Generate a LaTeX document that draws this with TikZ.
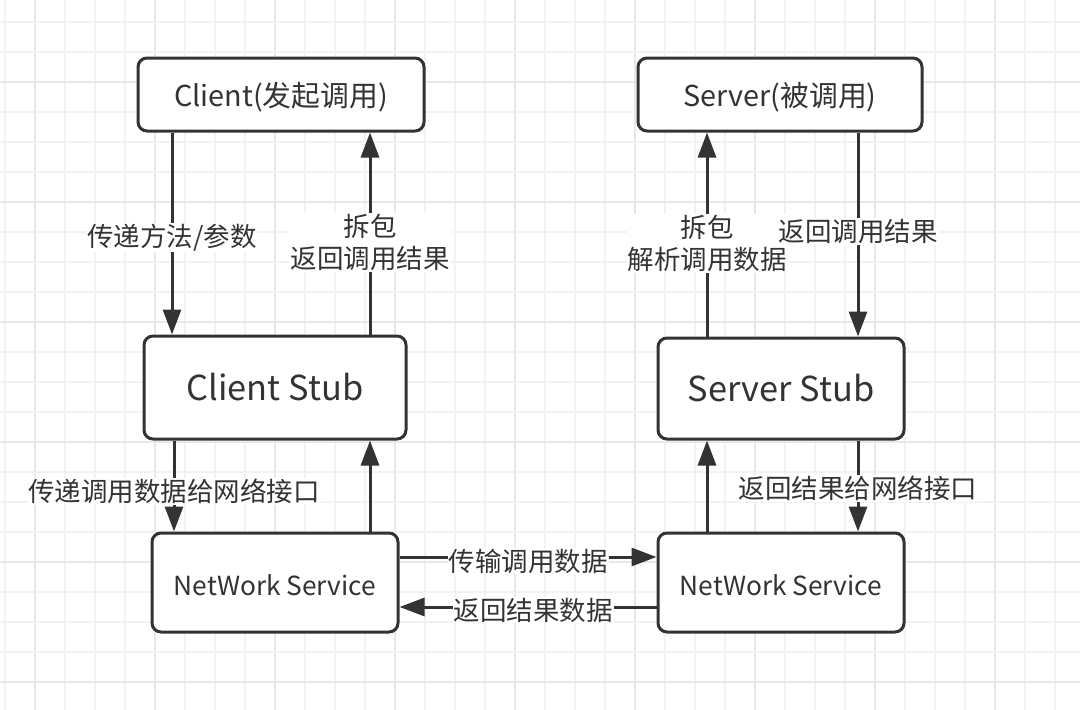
\documentclass[tikz,border=0pt]{standalone}
\usepackage{fontspec}
\setmainfont{Noto Sans CJK SC}
\usetikzlibrary{arrows.meta}
\definecolor{ink}{HTML}{333333}
\definecolor{gridminor}{HTML}{F2F2F2}
\definecolor{gridmajor}{HTML}{E8E8E8}
\tikzset{
  box/.style={draw=ink, line width=3pt, rounded corners=9pt, fill=white, text=ink, inner sep=0pt},
  arr/.style={draw=ink, line width=3pt, -{Triangle[length=25pt,width=18pt]}},
  lbl/.style={fill=white, text=ink, font=\fontsize{26.5}{32}\selectfont, inner sep=1pt, align=center},
}
\newcommand{\lowered}[2]{\raisebox{-#1}[\height][\depth]{#2}}
\begin{document}
\begin{tikzpicture}[x=1pt,y=-1pt]
\useasboundingbox (0,0) rectangle (1080,710);
\fill[white] (0,0) rectangle (1080,710);
% grid
\foreach \k in {0,...,35} {
  \pgfmathtruncatemacro\gx{5+30*\k}
  \pgfmathtruncatemacro\mj{mod(\k+3,4)==0}
  \ifnum\mj=1 \draw[gridmajor, line width=2pt] (\gx,0) -- (\gx,710);
  \else \draw[gridminor, line width=1.5pt] (\gx,0) -- (\gx,710); \fi
}
\foreach \k in {0,...,23} {
  \pgfmathtruncatemacro\gy{22+30*\k}
  \pgfmathtruncatemacro\mj{mod(\k+2,4)==0}
  \ifnum\mj=1 \draw[gridmajor, line width=2pt] (0,\gy) -- (1080,\gy);
  \else \draw[gridminor, line width=1.5pt] (0,\gy) -- (1080,\gy); \fi
}
% boxes
\node[box, minimum width=286pt, minimum height=73pt, font=\fontsize{28.8}{32}\selectfont] (client) at (281,94.5) {\lowered{3pt}{Client(发起调用)}};
\node[box, minimum width=284pt, minimum height=73pt, font=\fontsize{28.8}{32}\selectfont] (server) at (780,94.5) {\lowered{3pt}{Server(被调用)}};
\node[box, minimum width=262pt, minimum height=103pt, font=\fontsize{34.4}{36}\selectfont] (cstub) at (275,387.5) {Client Stub};
\node[box, minimum width=246pt, minimum height=101pt, font=\fontsize{34.4}{36}\selectfont] (sstub) at (781,388.5) {Server Stub};
\node[box, minimum width=246pt, minimum height=99pt, font=\fontsize{26.3}{30}\selectfont] (cnet) at (275,582.5) {\lowered{3pt}{NetWork Service}};
\node[box, minimum width=246pt, minimum height=99pt, font=\fontsize{26.3}{30}\selectfont] (snet) at (781,582.5) {\lowered{3pt}{NetWork Service}};
% vertical connectors, upper
\draw[arr] (client.south -| 172,0) -- node[lbl, pos=0.52] {传递方法/参数} (cstub.north -| 172,0);
\draw[arr] (cstub.north -| 370,0) -- node[lbl, pos=0.455] {拆包\\返回调用结果} (client.south -| 370,0);
\draw[arr] (sstub.north -| 707,0) -- node[lbl, pos=0.455] {拆包\\解析调用数据} (server.south -| 707,0);
\draw[arr] (server.south -| 858,0) -- node[lbl, pos=0.485] {返回调用结果} (sstub.north -| 858,0);
% vertical connectors, lower
\draw[arr] (cstub.south -| 174,0) -- node[lbl, pos=0.56] {传递调用数据给网络接口} (cnet.north -| 174,0);
\draw[arr] (cnet.north -| 370,0) -- (cstub.south -| 370,0);
\draw[arr] (snet.north -| 707,0) -- (sstub.south -| 707,0);
\draw[arr] (sstub.south -| 858,0) -- node[lbl, pos=0.53] {返回结果给网络接口} (snet.north -| 858,0);
% horizontal connectors
\draw[arr] (cnet.east |- 0,557) -- node[lbl, pos=0.5, yshift=-4pt] {传输调用数据} (snet.west |- 0,557);
\draw[arr] (snet.west |- 0,607) -- node[lbl, pos=0.48, yshift=-3pt] {返回结果数据} (cnet.east |- 0,607);
\end{tikzpicture}
\end{document}
